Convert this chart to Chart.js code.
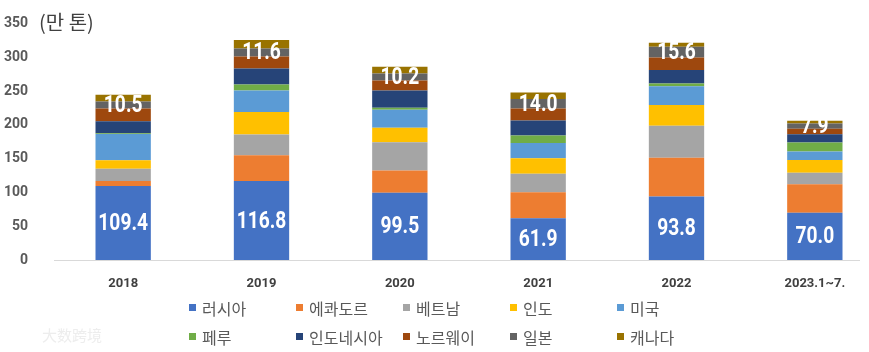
<!DOCTYPE html>
<html>
<head>
<meta charset="utf-8">
<script src="https://cdn.jsdelivr.net/npm/chart.js@4"></script>
<style>
  body { margin: 0; background: #fff; overflow: hidden; }
  #wrap { position: relative; width: 869px; height: 352px; overflow: hidden; }
  #chart { position: absolute; left: 0; top: -3px; }
  #unit { position: absolute; left: 39px; top: 7px; font: 20px "Noto Sans CJK KR", sans-serif; color: #404040; }
  #legend { position: absolute; left: 189px; top: 293px; display: grid; grid-template-columns: repeat(5, 107px); grid-auto-rows: 29px; }
  #legend div { display: flex; align-items: center; font: 16px "Noto Sans CJK KR", sans-serif; color: #595959; white-space: nowrap; }
  #legend span { display: inline-block; width: 7px; height: 7px; margin-right: 6px; }
  #mark { position: absolute; left: 42px; top: 324px; font: 15px "Noto Sans CJK SC", sans-serif; color: #ededed; }
</style>
</head>
<body>
<div id="wrap">
  <canvas id="chart"></canvas>
  <div id="unit">(만 톤)</div>
  <div id="legend"></div>
  <div id="mark">大数跨境</div>
</div>
<script>
// 카테고리
const years = ['2018', '2019', '2020', '2021', '2022', '2023.1~7.'];

// 국가별 수입량 (만 톤)
const russia    = [109.4, 116.8, 99.5, 61.9, 93.8, 70.0];
const ecuador   = [7.5, 38, 33, 38.4, 57.6, 42];
const vietnam   = [18, 31, 41.8, 27.2, 47.3, 17.1];
const india     = [12.5, 33, 21.3, 23, 30.5, 19];
const usa       = [39, 32, 26.6, 22.7, 28, 12.3];
const peru      = [1.2, 8.8, 3, 10.8, 4, 13.3];
const indonesia = [17.5, 23.6, 25.6, 22.2, 19.7, 12.3];
const norway    = [19, 18, 14.8, 18, 18.8, 8];
const japan     = [10.5, 11.6, 10.2, 14.0, 15.6, 7.9];
const canada    = [10, 12.8, 10, 9.5, 5.9, 4];

const yTicks = [0, 50, 100, 150, 200, 250, 300, 350];

const series = [
    { label: '러시아', data: russia, color: '#4472C4', showValue: true },
    { label: '에콰도르', data: ecuador, color: '#ED7D31' },
    { label: '베트남', data: vietnam, color: '#A5A5A5' },
    { label: '인도', data: india, color: '#FFC000' },
    { label: '미국', data: usa, color: '#5B9BD5' },
    { label: '페루', data: peru, color: '#70AD47' },
    { label: '인도네시아', data: indonesia, color: '#264478' },
    { label: '노르웨이', data: norway, color: '#9E480E' },
    { label: '일본', data: japan, color: '#636363', showValue: true },
    { label: '캐나다', data: canada, color: '#997300' }
];

const canvas = document.getElementById('chart');
canvas.width = 890;
canvas.height = 303;
canvas.style.width = '890px';
canvas.style.height = '303px';

// 값 라벨 (러시아, 일본) - 좁은 글꼴 느낌으로 가로 압축
const valueLabels = {
    id: 'valueLabels',
    afterDatasetsDraw(chart) {
        const ctx = chart.ctx;
        chart.data.datasets.forEach((ds, i) => {
            if (!ds.showValue) return;
            chart.getDatasetMeta(i).data.forEach((bar, j) => {
                ctx.save();
                ctx.translate(bar.x, (bar.y + bar.base) / 2 + 1);
                ctx.scale(0.8, 1);
                ctx.font = 'bold 24px Roboto, sans-serif';
                ctx.fillStyle = '#ffffff';
                ctx.textAlign = 'center';
                ctx.textBaseline = 'middle';
                ctx.fillText(ds.data[j].toFixed(1), 0, 0);
                ctx.restore();
            });
        });
    }
};

// 가로 기준선
const baseLine = {
    id: 'baseLine',
    beforeDatasetsDraw(chart) {
        const ctx = chart.ctx;
        const area = chart.chartArea;
        ctx.save();
        ctx.strokeStyle = '#D9D9D9';
        ctx.lineWidth = 1;
        ctx.beginPath();
        ctx.moveTo(area.left, area.bottom + 0.5);
        ctx.lineTo(area.right - 24, area.bottom + 0.5);
        ctx.stroke();
        ctx.restore();
    }
};

new Chart(canvas.getContext('2d'), {
    type: 'bar',
    data: {
        labels: years,
        datasets: series.map(s => ({
            label: s.label,
            data: s.data,
            backgroundColor: s.color,
            showValue: !!s.showValue,
            categoryPercentage: 1,
            barPercentage: 0.4,
            borderWidth: 0
        }))
    },
    options: {
        responsive: false,
        animation: false,
        devicePixelRatio: 1,
        layout: { padding: { top: 18, right: 6, bottom: 0, left: 0 } },
        plugins: {
            legend: { display: false },
            tooltip: { enabled: false }
        },
        scales: {
            x: {
                stacked: true,
                grid: { display: false },
                border: { display: false },
                ticks: {
                    padding: 8,
                    color: '#404040',
                    font: { family: 'Roboto, sans-serif', size: 13, weight: 'bold' }
                },
                afterFit: s => { s.height = 40; }
            },
            y: {
                stacked: true,
                min: 0,
                max: 350,
                afterBuildTicks: s => { s.ticks = yTicks.map(v => ({ value: v })); },
                grid: { display: false },
                border: { display: false },
                ticks: {
                    padding: 18,
                    color: '#595959',
                    font: { family: 'Roboto, sans-serif', size: 14, weight: 'bold' }
                },
                afterFit: s => { s.width = 54; }
            }
        }
    },
    plugins: [baseLine, valueLabels]
});

// 범례
const legend = document.getElementById('legend');
series.forEach(s => {
    const item = document.createElement('div');
    const box = document.createElement('span');
    box.style.background = s.color;
    item.appendChild(box);
    item.appendChild(document.createTextNode(s.label));
    legend.appendChild(item);
});
</script>
</body>
</html>
